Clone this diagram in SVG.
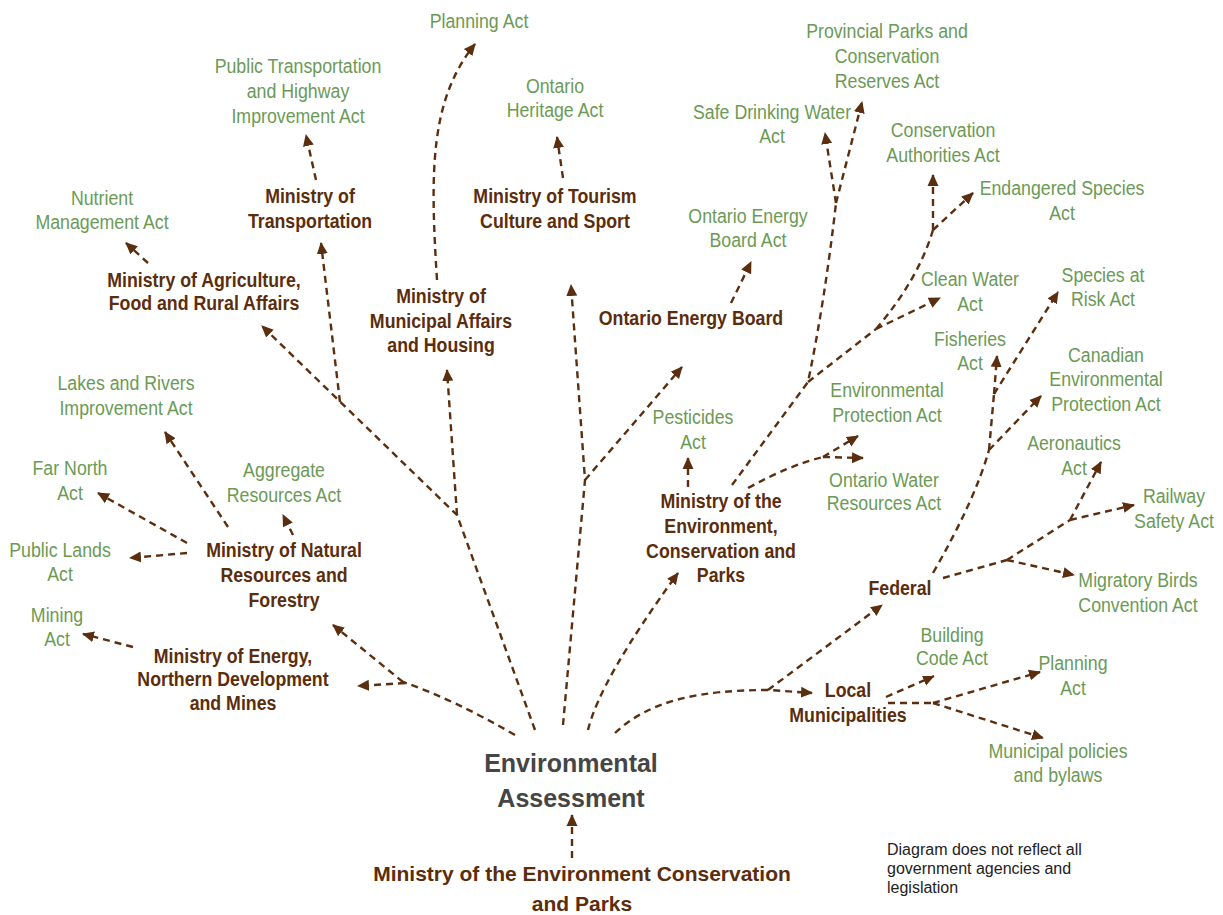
<svg xmlns="http://www.w3.org/2000/svg" width="1223" height="915" viewBox="0 0 1223 915">
  <defs>
    <marker id="ah" viewBox="0 0 12 12" refX="11" refY="6" markerWidth="12" markerHeight="12" markerUnits="userSpaceOnUse" orient="auto">
      <path d="M0,0.5 L12,6 L0,11.5 z" fill="#5a2e0f"/>
    </marker>
    <style>
      .act { font-family: "Liberation Sans Narrow", "Liberation Sans", Arial, sans-serif; font-size: 21px; fill: #6b9a55; text-anchor: middle; }
      .org { font-family: "Liberation Sans Narrow", "Liberation Sans", Arial, sans-serif; font-size: 21px; font-weight: bold; fill: #5b2d0c; text-anchor: middle; }
      .hub { font-family: "Liberation Sans", Arial, sans-serif; font-size: 25px; font-weight: bold; fill: #454545; text-anchor: middle; }
      .src { font-family: "Liberation Sans", Arial, sans-serif; font-size: 21px; font-weight: bold; fill: #5b2d0c; text-anchor: middle; }
      .note { font-family: "Liberation Sans", Arial, sans-serif; font-size: 16px; fill: #222; }
      .c { fill: none; stroke: #5a2e0f; stroke-width: 2.4; stroke-dasharray: 7 5; }
      .a { marker-end: url(#ah); }
    </style>
  </defs>
  <rect width="1223" height="915" fill="#ffffff"/>

  <!-- connectors -->
  <g id="connectors">
    <!-- main trunks from Environmental Assessment -->
    <path class="c a" d="M535,730 L457,515 L262,326"/>
    <path class="c a" d="M340,402 L321,243"/>
    <path class="c a" d="M457,515 L447,370"/>
    <path class="c a" d="M563,725 L585,480 L571,285"/>
    <path class="c a" d="M585,480 L682,367"/>
    <path class="c a" d="M588,730 Q600,680 678,573"/>
    <path class="c a" d="M615,733 C650,700 700,690 770,690 L812,693"/>
    <path class="c a" d="M768,690 L882,605"/>
    <path class="c" d="M515,735 Q455,700 403,682"/>
    <path class="c a" d="M403,682 L333,625"/>
    <path class="c a" d="M405,683 L358,686"/>
    <path class="c a" d="M572,858 L572,815"/>

    <!-- ministry to act branches -->
    <path class="c a" d="M148,263 L126,243"/>
    <path class="c a" d="M316,180 L306,135"/>
    <path class="c a" d="M563,178 L557,137"/>
    <path class="c a" d="M437,280 C430,170 430,100 475,44"/>
    <path class="c a" d="M731,303 L751,262"/>

    <!-- Ministry of the Environment, Conservation and Parks -->
    <path class="c a" d="M688,487 L688,458"/>
    <path class="c" d="M732,485 L808,382 Q825,300 836,203"/>
    <path class="c a" d="M836,203 L825,133"/>
    <path class="c a" d="M836,203 L862,102"/>
    <path class="c" d="M808,382 L876,329"/>
    <path class="c a" d="M876,329 L940,298"/>
    <path class="c" d="M876,329 Q918,280 933,230"/>
    <path class="c a" d="M933,230 L933,175"/>
    <path class="c a" d="M933,230 L973,193"/>
    <path class="c" d="M748,488 Q790,465 823,457"/>
    <path class="c a" d="M823,457 L858,436"/>
    <path class="c a" d="M823,457 L863,458"/>

    <!-- Federal -->
    <path class="c" d="M933,573 Q975,500 989,450"/>
    <path class="c a" d="M989,450 L1041,396"/>
    <path class="c" d="M989,450 L994,394"/>
    <path class="c a" d="M994,394 L997,356"/>
    <path class="c a" d="M994,394 L1058,292"/>
    <path class="c" d="M943,578 L1007,560"/>
    <path class="c a" d="M1007,560 L1074,575"/>
    <path class="c" d="M1007,560 L1070,520"/>
    <path class="c a" d="M1070,520 L1101,462"/>
    <path class="c a" d="M1070,520 L1134,505"/>

    <!-- Local Municipalities -->
    <path class="c a" d="M886,697 L934,676"/>
    <path class="c" d="M888,703 L933,703"/>
    <path class="c a" d="M933,703 L1040,672"/>
    <path class="c a" d="M933,703 L1043,738"/>

    <!-- Natural Resources and Forestry -->
    <path class="c a" d="M228,527 L165,432"/>
    <path class="c a" d="M187,543 L98,493"/>
    <path class="c a" d="M187,553 L130,558"/>
    <path class="c a" d="M293,535 L283,515"/>
    <!-- Energy, Northern Development and Mines -->
    <path class="c a" d="M133,647 L83,634"/>
  </g>

  <!-- hub -->
  <g id="environmental-assessment">
    <text class="hub" x="571" y="772">Environmental</text>
    <text class="hub" x="571" y="807">Assessment</text>
  </g>
  <g id="mecp-source">
    <text class="src" x="582" y="881">Ministry of the Environment Conservation</text>
    <text class="src" x="582" y="911">and Parks</text>
  </g>

  <!-- ministries and agencies (condensed lettering, centred on the group origin) -->
  <g id="agriculture" transform="translate(204 0) scale(0.845 1)">
    <text class="org" x="0" y="287">Ministry of Agriculture,</text>
    <text class="org" x="0" y="310">Food and Rural Affairs</text>
  </g>
  <g id="transportation" transform="translate(310 0) scale(0.845 1)">
    <text class="org" x="0" y="203">Ministry of</text>
    <text class="org" x="0" y="228">Transportation</text>
  </g>
  <g id="municipal-affairs" transform="translate(441 0) scale(0.845 1)">
    <text class="org" x="0" y="303">Ministry of</text>
    <text class="org" x="0" y="328">Municipal Affairs</text>
    <text class="org" x="0" y="352">and Housing</text>
  </g>
  <g id="tourism" transform="translate(555 0) scale(0.845 1)">
    <text class="org" x="0" y="203">Ministry of Tourism</text>
    <text class="org" x="0" y="228">Culture and Sport</text>
  </g>
  <g id="energy-board" transform="translate(691 0) scale(0.845 1)">
    <text class="org" x="0" y="325">Ontario Energy Board</text>
  </g>
  <g id="mecp" transform="translate(721 0) scale(0.845 1)">
    <text class="org" x="0" y="508">Ministry of the</text>
    <text class="org" x="0" y="533">Environment,</text>
    <text class="org" x="0" y="558">Conservation and</text>
    <text class="org" x="0" y="582">Parks</text>
  </g>
  <g id="natural-resources" transform="translate(284 0) scale(0.845 1)">
    <text class="org" x="0" y="557">Ministry of Natural</text>
    <text class="org" x="0" y="582">Resources and</text>
    <text class="org" x="0" y="607">Forestry</text>
  </g>
  <g id="energy-mines" transform="translate(233 0) scale(0.845 1)">
    <text class="org" x="0" y="663">Ministry of Energy,</text>
    <text class="org" x="0" y="686">Northern Development</text>
    <text class="org" x="0" y="710">and Mines</text>
  </g>
  <g id="federal" transform="translate(900 0) scale(0.845 1)">
    <text class="org" x="0" y="595">Federal</text>
  </g>
  <g id="local" transform="translate(848 0) scale(0.845 1)">
    <text class="org" x="0" y="697">Local</text>
    <text class="org" x="0" y="722">Municipalities</text>
  </g>

  <!-- legislation -->
  <g id="planning-act" transform="translate(479 0) scale(0.845 1)"><text class="act" x="0" y="28">Planning Act</text></g>
  <g id="public-transportation-act" transform="translate(298 0) scale(0.845 1)">
    <text class="act" x="0" y="73">Public Transportation</text>
    <text class="act" x="0" y="98">and Highway</text>
    <text class="act" x="0" y="123">Improvement Act</text>
  </g>
  <g id="heritage-act" transform="translate(555 0) scale(0.845 1)">
    <text class="act" x="0" y="93">Ontario</text>
    <text class="act" x="0" y="117">Heritage Act</text>
  </g>
  <g id="nutrient-act" transform="translate(102 0) scale(0.845 1)">
    <text class="act" x="0" y="205">Nutrient</text>
    <text class="act" x="0" y="229">Management Act</text>
  </g>
  <g id="provincial-parks-act" transform="translate(887 0) scale(0.845 1)">
    <text class="act" x="0" y="38">Provincial Parks and</text>
    <text class="act" x="0" y="63">Conservation</text>
    <text class="act" x="0" y="88">Reserves Act</text>
  </g>
  <g id="drinking-water-act" transform="translate(772 0) scale(0.845 1)">
    <text class="act" x="0" y="119">Safe Drinking Water</text>
    <text class="act" x="0" y="143">Act</text>
  </g>
  <g id="conservation-authorities-act" transform="translate(943 0) scale(0.845 1)">
    <text class="act" x="0" y="137">Conservation</text>
    <text class="act" x="0" y="162">Authorities Act</text>
  </g>
  <g id="endangered-species-act" transform="translate(1062 0) scale(0.845 1)">
    <text class="act" x="0" y="195">Endangered Species</text>
    <text class="act" x="0" y="220">Act</text>
  </g>
  <g id="energy-board-act" transform="translate(748 0) scale(0.845 1)">
    <text class="act" x="0" y="223">Ontario Energy</text>
    <text class="act" x="0" y="247">Board Act</text>
  </g>
  <g id="clean-water-act" transform="translate(970 0) scale(0.845 1)">
    <text class="act" x="0" y="286">Clean Water</text>
    <text class="act" x="0" y="311">Act</text>
  </g>
  <g id="species-at-risk-act" transform="translate(1103 0) scale(0.845 1)">
    <text class="act" x="0" y="282">Species at</text>
    <text class="act" x="0" y="306">Risk Act</text>
  </g>
  <g id="fisheries-act" transform="translate(970 0) scale(0.845 1)">
    <text class="act" x="0" y="346">Fisheries</text>
    <text class="act" x="0" y="370">Act</text>
  </g>
  <g id="cepa" transform="translate(1106 0) scale(0.845 1)">
    <text class="act" x="0" y="362">Canadian</text>
    <text class="act" x="0" y="386">Environmental</text>
    <text class="act" x="0" y="411">Protection Act</text>
  </g>
  <g id="epa" transform="translate(887 0) scale(0.845 1)">
    <text class="act" x="0" y="397">Environmental</text>
    <text class="act" x="0" y="422">Protection Act</text>
  </g>
  <g id="pesticides-act" transform="translate(693 0) scale(0.845 1)">
    <text class="act" x="0" y="424">Pesticides</text>
    <text class="act" x="0" y="449">Act</text>
  </g>
  <g id="water-resources-act" transform="translate(884 0) scale(0.845 1)">
    <text class="act" x="0" y="487">Ontario Water</text>
    <text class="act" x="0" y="510">Resources Act</text>
  </g>
  <g id="aeronautics-act" transform="translate(1074 0) scale(0.845 1)">
    <text class="act" x="0" y="450">Aeronautics</text>
    <text class="act" x="0" y="475">Act</text>
  </g>
  <g id="railway-act" transform="translate(1174 0) scale(0.845 1)">
    <text class="act" x="0" y="503">Railway</text>
    <text class="act" x="0" y="528">Safety Act</text>
  </g>
  <g id="migratory-birds-act" transform="translate(1138 0) scale(0.845 1)">
    <text class="act" x="0" y="587">Migratory Birds</text>
    <text class="act" x="0" y="612">Convention Act</text>
  </g>
  <g id="building-code-act" transform="translate(952 0) scale(0.845 1)">
    <text class="act" x="0" y="642">Building</text>
    <text class="act" x="0" y="665">Code Act</text>
  </g>
  <g id="local-planning-act" transform="translate(1073 0) scale(0.845 1)">
    <text class="act" x="0" y="670">Planning</text>
    <text class="act" x="0" y="695">Act</text>
  </g>
  <g id="municipal-bylaws" transform="translate(1058 0) scale(0.845 1)">
    <text class="act" x="0" y="758">Municipal policies</text>
    <text class="act" x="0" y="782">and bylaws</text>
  </g>
  <g id="lakes-rivers-act" transform="translate(126 0) scale(0.845 1)">
    <text class="act" x="0" y="390">Lakes and Rivers</text>
    <text class="act" x="0" y="415">Improvement Act</text>
  </g>
  <g id="far-north-act" transform="translate(70 0) scale(0.845 1)">
    <text class="act" x="0" y="475">Far North</text>
    <text class="act" x="0" y="500">Act</text>
  </g>
  <g id="aggregate-act" transform="translate(284 0) scale(0.845 1)">
    <text class="act" x="0" y="477">Aggregate</text>
    <text class="act" x="0" y="502">Resources Act</text>
  </g>
  <g id="public-lands-act" transform="translate(60 0) scale(0.845 1)">
    <text class="act" x="0" y="557">Public Lands</text>
    <text class="act" x="0" y="581">Act</text>
  </g>
  <g id="mining-act" transform="translate(57 0) scale(0.845 1)">
    <text class="act" x="0" y="622">Mining</text>
    <text class="act" x="0" y="646">Act</text>
  </g>

  <g id="note">
    <text class="note" x="887" y="855">Diagram does not reflect all</text>
    <text class="note" x="887" y="874">government agencies and</text>
    <text class="note" x="887" y="893">legislation</text>
  </g>
</svg>
